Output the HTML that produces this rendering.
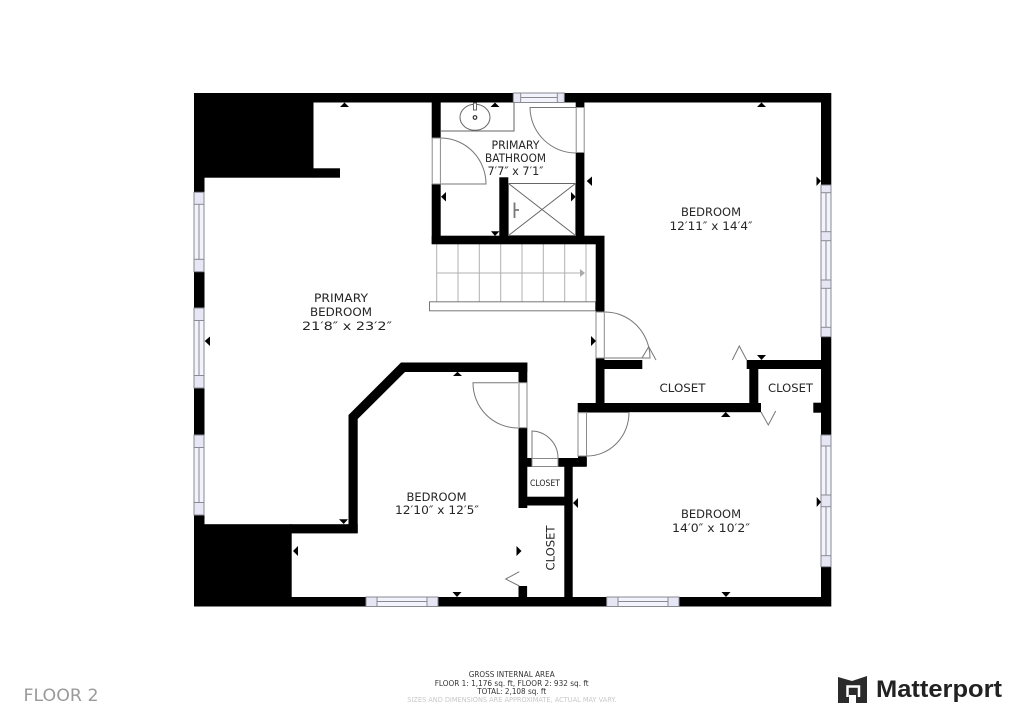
<!DOCTYPE html>
<html><head><meta charset="utf-8"><style>
html,body{margin:0;padding:0;background:#fff}
svg{display:block}
text{font-family:"DejaVu Sans","Liberation Sans",sans-serif;fill:#262626;text-anchor:middle;font-size:11.5px}
.w{fill:#e6e6f5;stroke:#8a8a94;stroke-width:1}
.p{fill:#f3f3fb;stroke:#8a8a94;stroke-width:1}
.f{fill:none;stroke:#8a8a94;stroke-width:1}
.d{fill:#fff;stroke:#8a8a8a;stroke-width:1}
.a{fill:none;stroke:#777;stroke-width:1}
.s{stroke:#b0b0b0;stroke-width:1;fill:none}
</style></head><body>
<svg width="1024" height="724" viewBox="0 0 1024 724" xmlns="http://www.w3.org/2000/svg">
<rect width="1024" height="724" fill="#fff"/>
<!-- stairs -->
<g class="s">
<path d="M436.7 244V302M458 244V302M479.3 244V302M500.7 244V302M522 244V302M543.3 244V302M564.7 244V302M586 244V302"/>
<path d="M437 273H581"/>
</g>
<path d="M580 269l5 4l-5 4z" fill="#aaa"/>
<rect x="429.500" y="301.800" width="166" height="9" fill="#fff" stroke="#777"/>
<!-- walls -->
<g fill="#000">
<rect x="194" y="93" width="637" height="9.500"/>
<rect x="194" y="93" width="119.500" height="84.700"/>
<rect x="313" y="168.300" width="27" height="9.400"/>
<rect x="194" y="93" width="10.500" height="513"/>
<rect x="194" y="524.200" width="97.700" height="82"/>
<rect x="290" y="524.200" width="67.700" height="9.200"/>
<rect x="194" y="597" width="637" height="9.500"/>
<rect x="821" y="93" width="10.300" height="513.500"/>
<path d="M348.500 533V415L401 362.500H527.300V372H405L357.700 419V533Z"/>
<rect x="518.500" y="362.500" width="8.800" height="20"/>
<rect x="518.500" y="428" width="8.800" height="80"/>
<rect x="518.500" y="496.700" width="54" height="8.800"/>
<rect x="518.500" y="458" width="13.200" height="8.800"/>
<rect x="558.300" y="458" width="28.400" height="8.800"/>
<rect x="564.300" y="458" width="8.400" height="140"/>
<rect x="577.700" y="403" width="183.300" height="9.200"/>
<rect x="578" y="456" width="8.800" height="10"/>
<rect x="749.300" y="360" width="9" height="50"/>
<rect x="746.700" y="360" width="75" height="9"/>
<rect x="813.300" y="402.700" width="8" height="10"/>
<rect x="595.700" y="236" width="8.800" height="76"/>
<rect x="595.700" y="358" width="8.800" height="50"/>
<rect x="604" y="360" width="38.300" height="9"/>
<rect x="431.700" y="235.700" width="172.800" height="8.600"/>
<rect x="431.700" y="93" width="9" height="45"/>
<rect x="431.700" y="184" width="9" height="60"/>
<rect x="575.700" y="93" width="8.700" height="14.500"/>
<rect x="575.700" y="152.700" width="8.700" height="90"/>
<rect x="499.300" y="177.300" width="9" height="60"/>
<rect x="518.500" y="586" width="8.600" height="12"/>
</g>
<!-- left windows -->
<g>
<rect class="w" x="194" y="192.300" width="10" height="79.400"/><rect class="p" x="194" y="204.300" width="10" height="55"/><path class="f" d="M199 204.300V259.300"/>
<rect class="w" x="194" y="308" width="10" height="80"/><rect class="p" x="194" y="320.500" width="10" height="55"/><path class="f" d="M199 320.500V375.500"/>
<rect class="w" x="194" y="435" width="10" height="80"/><rect class="p" x="194" y="447.500" width="10" height="55"/><path class="f" d="M199 447.500V502.500"/>
</g>
<!-- right windows -->
<g>
<rect class="w" x="821" y="185" width="10" height="151.700"/>
<rect class="p" x="821" y="192.700" width="10" height="39"/><rect class="p" x="821" y="240.700" width="10" height="39.300"/><rect class="p" x="821" y="288.300" width="10" height="39"/>
<path class="f" d="M826 192.700V231.700M826 240.700V280M826 288.300V327.300"/>
<rect class="w" x="821" y="435" width="10" height="131.700"/>
<rect class="p" x="821" y="446" width="10" height="49"/><rect class="p" x="821" y="506.700" width="10" height="49"/>
<path class="f" d="M826 446V495M826 506.700V555.700"/>
</g>
<!-- bottom windows -->
<g>
<rect class="w" x="366" y="597" width="72" height="9.500"/><rect class="p" x="377" y="597" width="50" height="9.500"/><path class="f" d="M377 601.500H427"/>
<rect class="w" x="606.700" y="597" width="72.300" height="9.500"/><rect class="p" x="618" y="597" width="50" height="9.500"/><path class="f" d="M618 601.500H668"/>
<!-- top window -->
<rect class="w" x="513.300" y="93" width="51" height="9.500"/><rect class="p" x="520.700" y="93" width="36.600" height="9.500"/><path class="f" d="M520.700 97.500H557.300"/>
</g>
<!-- door openings -->
<g class="d">
<rect x="432.200" y="138" width="8.200" height="46"/>
<rect x="576.200" y="107.500" width="8" height="45"/>
<rect x="596" y="312" width="8.300" height="46"/>
<rect x="519" y="382.700" width="8" height="45"/>
<rect x="532" y="458.500" width="26" height="8"/>
<rect x="578" y="412.700" width="8.500" height="43.300"/>
</g>
<!-- door swings -->
<g class="a">
<path d="M441 138A45.500 46 0 0 1 486 184H441"/>
<path d="M576 153A46 46 0 0 1 530 107.500H576"/>
<path d="M605 312A45 46 0 0 1 650 358H605"/>
<path d="M518 428A45 45 0 0 1 473 382.700H518"/>
<path d="M532 458V431A27 27 0 0 1 558 458"/>
<path d="M587 456A42 43.500 0 0 0 629 412.500H587"/>
<path d="M642 358L648.700 346.700L656 360"/>
<path d="M732.300 360L739.300 346L746.700 360"/>
<path d="M761 412L768.300 425L775.700 411"/>
<path d="M519.300 571.700L505.700 579L519.300 586"/>
</g>
<!-- bath fixtures -->
<g class="f" style="stroke:#666">
<path d="M441 131H514V102.500"/>
<ellipse cx="475" cy="117.300" rx="15" ry="13" fill="#fff"/>
<rect x="473.500" y="103" width="3" height="7" fill="#fff"/>
<rect x="508.500" y="183.500" width="67" height="52" fill="#fff"/>
<path d="M508.500 183.500L575.500 235.500M575.500 183.500L508.500 235.500"/>
</g>
<circle cx="475" cy="117.500" r="1.800" fill="none" stroke="#333" stroke-width="1.200"/>
<path d="M514.500 202.500V218M514.500 210H519" stroke="#777" stroke-width="1.800" fill="none"/>
<!-- triangles -->
<g fill="#000">
<path d="M340 107H349L344.500 102.500Z"/>
<path d="M757 107H766L761.500 102.500Z"/>
<path d="M490.500 107H499.500L495 102.500Z"/>
<path d="M446 192V201.500L441 196.700Z"/>
<path d="M571 192V201.500L575.700 196.700Z"/>
<path d="M491 231.300H499.500L495 236Z"/>
<path d="M592 176.500V186L586.700 181Z"/>
<path d="M816.500 176.500V186L821 181Z"/>
<path d="M816.700 497V507L821 502Z"/>
<path d="M210 336.500V346L204.700 341Z"/>
<path d="M591 336V346L596 341Z"/>
<path d="M453 376H462L457.500 371.700Z"/>
<path d="M757 355H766L761.500 360Z"/>
<path d="M721 417H730.500L725.700 412Z"/>
<path d="M339 519.300H348L343.700 524Z"/>
<path d="M298 546V556L293 551Z"/>
<path d="M516.500 546V556L521.500 551Z"/>
<path d="M578 498V508L573 503Z"/>
<path d="M452.500 592H461.500L457 597Z"/>
<path d="M721.500 592H730.500L726 597Z"/>
</g>
<!-- labels -->
<text x="341" y="302" textLength="54" lengthAdjust="spacingAndGlyphs">PRIMARY</text>
<text x="341" y="316" textLength="62" lengthAdjust="spacingAndGlyphs">BEDROOM</text>
<text x="347" y="330" textLength="90" lengthAdjust="spacingAndGlyphs">21′8″ x 23′2″</text>
<text x="515.500" y="149" textLength="48" lengthAdjust="spacingAndGlyphs">PRIMARY</text>
<text x="515.500" y="162" textLength="61" lengthAdjust="spacingAndGlyphs">BATHROOM</text>
<text x="515.500" y="175" textLength="56" lengthAdjust="spacingAndGlyphs">7′7″ x 7′1″</text>
<text x="711" y="216" textLength="60" lengthAdjust="spacingAndGlyphs">BEDROOM</text>
<text x="711" y="230" textLength="83" lengthAdjust="spacingAndGlyphs">12′11″ x 14′4″</text>
<text x="682.500" y="392" textLength="46" lengthAdjust="spacingAndGlyphs">CLOSET</text>
<text x="790.500" y="392" textLength="45" lengthAdjust="spacingAndGlyphs">CLOSET</text>
<text x="545" y="486" style="font-size:8.500px" textLength="30" lengthAdjust="spacingAndGlyphs">CLOSET</text>
<text transform="translate(554.500 548) rotate(-90)" textLength="45" lengthAdjust="spacingAndGlyphs">CLOSET</text>
<text x="436.500" y="501" textLength="60" lengthAdjust="spacingAndGlyphs">BEDROOM</text>
<text x="437" y="514" textLength="84" lengthAdjust="spacingAndGlyphs">12′10″ x 12′5″</text>
<text x="711" y="518" textLength="60" lengthAdjust="spacingAndGlyphs">BEDROOM</text>
<text x="711" y="532" textLength="78" lengthAdjust="spacingAndGlyphs">14′0″ x 10′2″</text>
<!-- footer -->
<text x="61" y="701" style="font-size:16.500px;fill:#9a9a9a" textLength="75" lengthAdjust="spacingAndGlyphs">FLOOR 2</text>
<text x="511.700" y="677" style="font-size:8px;fill:#333" textLength="86" lengthAdjust="spacingAndGlyphs">GROSS INTERNAL AREA</text>
<text x="511.700" y="686" style="font-size:8px;fill:#333" textLength="154" lengthAdjust="spacingAndGlyphs">FLOOR 1: 1,176 sq. ft, FLOOR 2: 932 sq. ft</text>
<text x="511.700" y="694" style="font-size:8px;fill:#333" textLength="69" lengthAdjust="spacingAndGlyphs">TOTAL: 2,108 sq. ft</text>
<text x="511.700" y="702" style="font-size:7px;fill:#c8c8c8" textLength="209" lengthAdjust="spacingAndGlyphs">SIZES AND DIMENSIONS ARE APPROXIMATE, ACTUAL MAY VARY.</text>
<!-- logo -->
<path d="M838 677L852 681L867 676V703H856V695H849V703H838Z" fill="#2b2b2b"/>
<path d="M847.500 697V686.500H859V697" fill="none" stroke="#fff" stroke-width="2.500"/>
<text x="939" y="697" style="font-family:'Liberation Sans',sans-serif;font-size:24px;font-weight:bold;fill:#222" textLength="126" lengthAdjust="spacingAndGlyphs">Matterport</text>
</svg>
</body></html>
